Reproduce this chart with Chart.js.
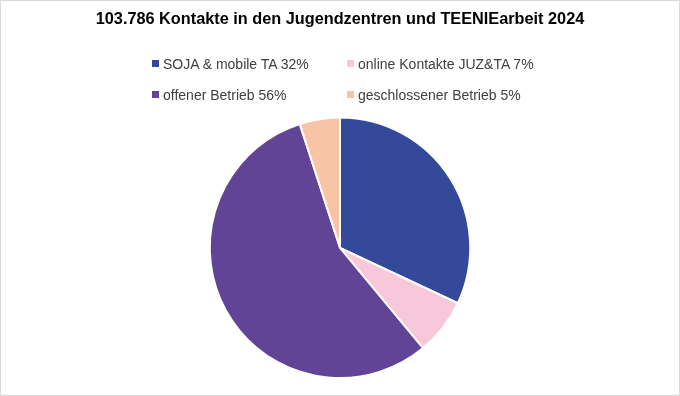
<!DOCTYPE html>
<html>
<head>
<meta charset="utf-8">
<script src="https://cdn.jsdelivr.net/npm/chart.js@4/dist/chart.umd.min.js"></script>
<style>
	html, body { margin: 0; padding: 0; background: #fff; }
	#wrap { position: relative; width: 680px; height: 396px; }
	#frame { position: absolute; left: 0; top: 0; width: 680px; height: 396px; box-sizing: border-box; border: 1px solid #d9d9d9; pointer-events: none; }
	#legend { position: absolute; left: 152px; top: 48px; display: grid; grid-template-columns: 195px 200px; grid-auto-rows: 31px; font-family: "Liberation Sans", sans-serif; font-size: 14px; color: #404040; }
	.item { display: flex; align-items: center; white-space: nowrap; }
	.box { width: 7px; height: 7px; margin-right: 4px; flex: none; }
</style>
</head>
<body>
<div id="wrap">
	<canvas id="chart" width="680" height="396"></canvas>
	<div id="legend"></div>
	<div id="frame"></div>
</div>
<script>
const title = '103.786 Kontakte in den Jugendzentren und TEENIEarbeit 2024';
const categories = ['SOJA & mobile TA', 'online Kontakte JUZ&TA', 'offener Betrieb', 'geschlossener Betrieb'];
const shares = [32, 7, 56, 5];
const colors = ['#35499b', '#f6c8da', '#624496', '#f8c4a6'];

// legend in two columns, built from the same arrays
const legend = document.getElementById('legend');
categories.forEach(function (name, i) {
	let item = document.createElement('div');
	item.className = 'item';
	let box = document.createElement('span');
	box.className = 'box';
	box.style.background = colors[i];
	item.appendChild(box);
	item.appendChild(document.createTextNode(name + ' ' + shares[i] + '%'));
	legend.appendChild(item);
});

new Chart(document.getElementById('chart'), {
	type: 'pie',
	data: {
		labels: categories,
		datasets: [
			{
				data: shares,
				backgroundColor: colors,
				borderColor: '#ffffff',
				borderWidth: 2,
			},
		],
	},
	options: {
		responsive: false,
		animation: false,
		layout: {
			padding: { top: 0, bottom: 17, left: 0, right: 0 },
		},
		plugins: {
			legend: { display: false },
			tooltip: { enabled: false },
			title: {
				display: true,
				text: title,
				color: '#000000',
				font: { family: '"Liberation Sans", sans-serif', size: 16.3, weight: 'bold' },
				padding: { top: 10, bottom: 87 },
			},
		},
	},
});
</script>
</body>
</html>
